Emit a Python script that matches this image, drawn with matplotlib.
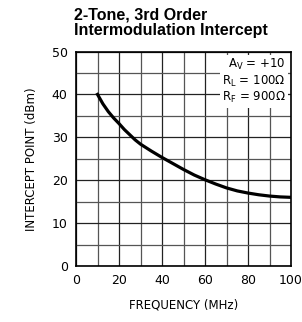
import numpy as np
import matplotlib.pyplot as plt

# Data
freq = [10, 12.5, 15, 17.5, 20, 22.5, 25, 27.5, 30, 35, 40, 45, 50, 55, 60, 65,
        70, 75, 80, 85, 90, 95, 100]
ip3 = [40.0, 37.8, 36.0, 34.5, 33.2, 31.8, 30.6, 29.4, 28.4, 26.8, 25.3, 23.9,
       22.5, 21.2, 20.1, 19.1, 18.2, 17.5, 17.0, 16.6, 16.3, 16.1, 16.0]

x_ticks = [0, 20, 40, 60, 80, 100]
y_ticks = [0, 10, 20, 30, 40, 50]

fig = plt.figure(figsize=(3.02, 3.22), dpi=100)
ax = fig.add_axes([0.2517, 0.174, 0.712, 0.666])

ax.plot(freq, ip3, color='black', linewidth=2.3, solid_joinstyle='round')

ax.set_xlim(0, 100)
ax.set_ylim(0, 50)
ax.set_xticks(x_ticks)
ax.set_yticks(y_ticks)
ax.set_xticks(np.arange(0, 101, 10), minor=True)
ax.set_yticks(np.arange(0, 51, 5), minor=True)
ax.grid(True, which='major', color='#222222', linewidth=0.9)
ax.grid(True, which='minor', color='#555555', linewidth=0.9)
ax.tick_params(which='both', length=0, labelsize=9, pad=6)
for s in ax.spines.values():
    s.set_linewidth(1.2)

ax.set_xlabel('FREQUENCY (MHz)', fontsize=8.5, labelpad=8)
ax.set_ylabel('INTERCEPT POINT (dBm)', fontsize=8.5, labelpad=10)

fig.text(0.245, 0.978, '2-Tone, 3rd Order\nIntermodulation Intercept',
         fontsize=11.5, fontweight='bold', ha='left', va='top',
         linespacing=1.05, fontfamily='Liberation Sans')

ax.text(0.975, 0.975, '$\\mathregular{A_V}$ = +10\n$\\mathregular{R_L}$ = 100Ω\n$\\mathregular{R_F}$ = 900Ω',
        transform=ax.transAxes, ha='right', va='top', fontsize=8.5,
        linespacing=1.15,
        bbox=dict(facecolor='white', edgecolor='none', pad=1.5))

fig.savefig('out.png', dpi=100)
